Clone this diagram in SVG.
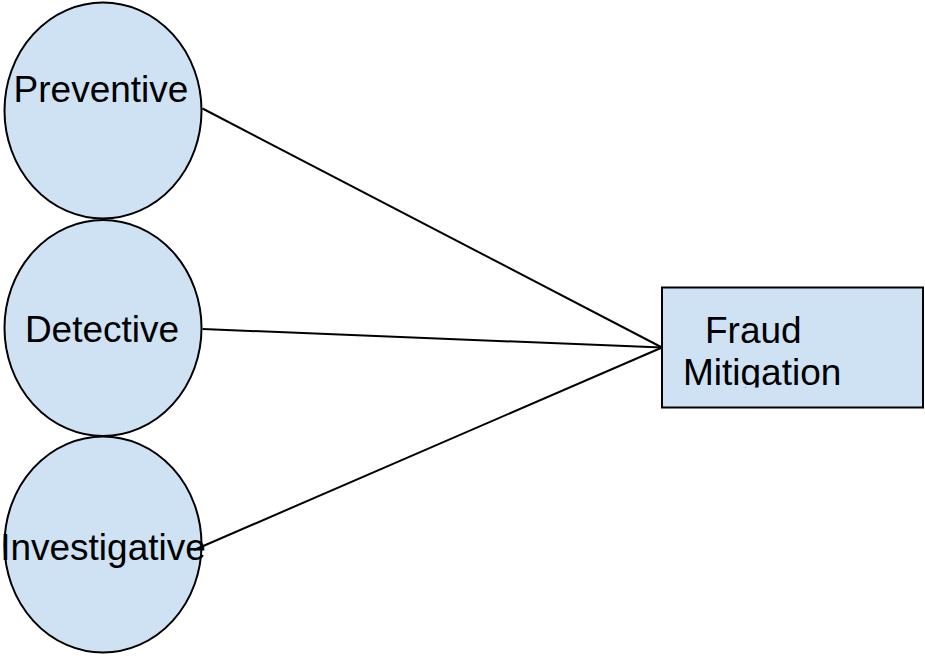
<svg xmlns="http://www.w3.org/2000/svg" width="925" height="656" viewBox="0 0 925 656">
<style>
.shape{fill:#cfe2f3;stroke:#000;stroke-width:2}
.lbl{font-family:"Liberation Sans",Arial,sans-serif;font-size:37px;fill:#000}
.conn{stroke:#000;stroke-width:2;fill:none}
</style>
<defs>
<clipPath id="rclip"><rect x="662" y="287.5" width="261" height="100"/></clipPath>
</defs>
<g id="preventive">
<ellipse class="shape" cx="103" cy="110.5" rx="98.5" ry="108"/>
<text class="lbl" x="101" y="102" text-anchor="middle">Preventive</text>
</g>
<g id="detective">
<ellipse class="shape" cx="103" cy="328" rx="98.5" ry="108"/>
<text class="lbl" x="102" y="341.5" text-anchor="middle">Detective</text>
</g>
<g id="investigative">
<ellipse class="shape" cx="103" cy="544.5" rx="98.5" ry="108"/>
<text class="lbl" x="103" y="560" text-anchor="middle">Investigative</text>
</g>
<g id="fraud-mitigation">
<rect class="shape" x="662" y="287.5" width="261" height="120"/>
<g clip-path="url(#rclip)">
<text class="lbl" x="705" y="343">Fraud</text>
<text class="lbl" x="683" y="385">Mitigation</text>
</g>
</g>
<g id="connectors">
<line class="conn" x1="202.5" y1="108.5" x2="662" y2="347.5"/>
<line class="conn" x1="202.5" y1="329" x2="662" y2="347.5"/>
<line class="conn" x1="194" y1="550" x2="662" y2="347.5"/>
</g>
</svg>
